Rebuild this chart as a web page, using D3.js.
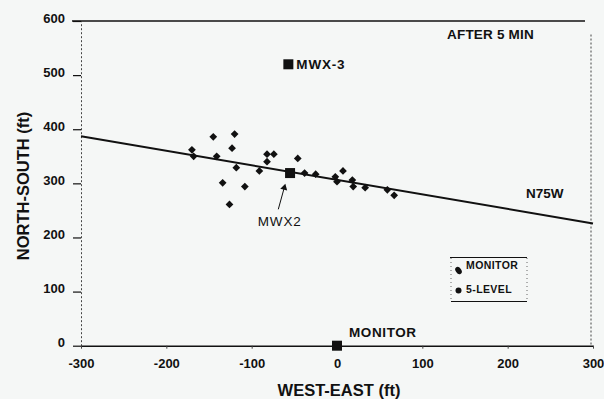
<!DOCTYPE html>
<html>
<head>
<meta charset="utf-8">
<script src="https://cdn.jsdelivr.net/npm/d3@7"></script>
<style>
  body { margin: 0; background: #f5f7f6; }
  svg { display: block; font-family: "Liberation Sans", Arial, sans-serif; }
</style>
</head>
<body>
<svg id="chart" width="604" height="399"></svg>
<script>
// well responses after 5 min (ft)
var pointsX = [-170, -168, -145, -120, -123, -141, -118, -91, -134, -108, -126,
               -82, -74, -82, -46, -38, -25, -2, 0, 7, 18, 19, 33, 59, 67];
var pointsY = [362, 350, 386, 391, 365, 350, 329, 323, 301, 294, 261,
               354, 354, 340, 346, 319, 317, 312, 303, 323, 306, 294, 292, 288, 278];

// wells (squares)
var wellNames = ["MWX-3", "MWX2", "MONITOR"];
var wellX = [-57, -55, 0];
var wellY = [520, 319, 0];

// N75W trend line end points
var trendX = [-300, 300];
var trendY = [387, 226];

var xTicks = [-300, -200, -100, 0, 100, 200, 300];
var yTicks = [0, 100, 200, 300, 400, 500, 600];

var svg = d3.select("#chart");
var x = d3.scaleLinear().domain([-300, 300]).range([81, 593]);
var y = d3.scaleLinear().domain([0, 600]).range([345.7, 21]);
var ink = "#111";
var plain = function(d) { return String(d); };

// y axis (dotted spine)
var yAxis = svg.append("g")
    .attr("transform", "translate(" + x(-300) + ",0)")
    .call(d3.axisLeft(y).tickValues(yTicks).tickFormat(plain)
        .tickSizeInner(8).tickSizeOuter(0).tickPadding(8));
yAxis.select(".domain").attr("stroke", "#444").attr("stroke-dasharray", "2,2").attr("stroke-width", 1);
yAxis.selectAll(".tick line").attr("stroke", ink).attr("stroke-width", 1.2);
yAxis.selectAll(".tick text")
    .attr("y", -3)
    .style("font-size", "13px").style("font-weight", "bold").attr("fill", ink);

// right border dotted
svg.append("line")
    .attr("x1", x(300) - 2).attr("x2", x(300) - 2)
    .attr("y1", y(575)).attr("y2", y(0))
    .attr("stroke", "#444").attr("stroke-dasharray", "2,2");

// top border
svg.append("line")
    .attr("x1", x(-300) - 9).attr("x2", x(300) - 8)
    .attr("y1", y(600)).attr("y2", y(600))
    .attr("stroke", ink).attr("stroke-width", 1.3);

// x axis
var xAxis = svg.append("g")
    .attr("transform", "translate(0," + y(0) + ")")
    .call(d3.axisBottom(x).tickValues(xTicks).tickFormat(plain)
        .tickSizeInner(3).tickSizeOuter(0).tickPadding(10));
xAxis.select(".domain").attr("stroke", ink).attr("stroke-width", 1.6);
xAxis.selectAll(".tick line").attr("stroke", "#444");
xAxis.selectAll(".tick text")
    .style("font-size", "13px").style("font-weight", "bold").attr("fill", ink);

// axis titles
svg.append("text")
    .attr("transform", "translate(23," + 186 + ") rotate(-90)")
    .attr("text-anchor", "middle").attr("dominant-baseline", "central")
    .style("font-size", "16.5px").style("font-weight", "bold").attr("fill", ink)
    .text("NORTH-SOUTH (ft)");
svg.append("text")
    .attr("x", x(0) + 2).attr("y", 396)
    .attr("text-anchor", "middle")
    .style("font-size", "16.5px").style("font-weight", "bold").attr("fill", ink)
    .text("WEST-EAST (ft)");

// trend line
svg.append("line")
    .attr("x1", x(trendX[0])).attr("y1", y(trendY[0]))
    .attr("x2", x(trendX[1])).attr("y2", y(trendY[1]))
    .attr("stroke", ink).attr("stroke-width", 2);

// diamonds
svg.append("g").selectAll("path")
    .data(pointsX)
    .join("path")
    .attr("d", d3.symbol().type(d3.symbolSquare).size(30))
    .attr("transform", function(d, i) {
        return "translate(" + x(d) + "," + y(pointsY[i]) + ") rotate(45)";
    })
    .attr("fill", ink);

// wells
svg.append("g").selectAll("rect")
    .data(wellX)
    .join("rect")
    .attr("x", function(d) { return x(d) - 5; })
    .attr("y", function(d, i) { return y(wellY[i]) - 5; })
    .attr("width", 10).attr("height", 10)
    .attr("fill", ink);

// labels
function label(tx, ty, txt, size, weight, spacing) {
    svg.append("text")
        .attr("x", tx).attr("y", ty)
        .style("font-size", size + "px").style("font-weight", weight)
        .style("letter-spacing", spacing + "px")
        .attr("fill", ink)
        .text(txt);
}
label(x(wellX[0]) + 8, y(wellY[0]) + 5, "MWX-3", 13.5, "bold", 0.8);
label(x(-67) - 22, y(231) + 5, "MWX2", 13.5, "normal", 0.8);
label(x(wellX[2]) + 12, y(0) - 9, "MONITOR", 13.5, "bold", 0.6);
label(447, 39, "AFTER 5 MIN", 13.5, "bold", 0.2);
label(526, 198, "N75W", 13.5, "bold", 0);

// MWX2 arrow
var ax0 = x(-68.8), ay0 = y(252), ax1 = x(-61.8), ay1 = y(292);
svg.append("line")
    .attr("x1", ax0).attr("y1", ay0).attr("x2", ax1).attr("y2", ay1)
    .attr("stroke", ink).attr("stroke-width", 1);
svg.append("path")
    .attr("d", d3.symbol().type(d3.symbolTriangle).size(22))
    .attr("transform", "translate(" + ax1 + "," + ay1 + ") rotate(" +
        (Math.atan2(ax1 - ax0, ay0 - ay1) * 180 / Math.PI) + ")")
    .attr("fill", ink);

// legend
var lg = svg.append("g");
lg.append("line").attr("x1", 450).attr("x2", 527).attr("y1", 257.5).attr("y2", 257.5)
    .attr("stroke", ink).attr("stroke-width", 1.2);
lg.append("line").attr("x1", 451).attr("x2", 527).attr("y1", 301.5).attr("y2", 301.5)
    .attr("stroke", ink).attr("stroke-width", 1.2);
lg.append("line").attr("x1", 451).attr("x2", 451).attr("y1", 258).attr("y2", 301)
    .attr("stroke", "#666").attr("stroke-dasharray", "1,3");
lg.append("line").attr("x1", 527).attr("x2", 527).attr("y1", 258).attr("y2", 301)
    .attr("stroke", "#666").attr("stroke-dasharray", "1,3");
lg.append("ellipse").attr("cx", 458.5).attr("cy", 270.5).attr("rx", 2.8).attr("ry", 4)
    .attr("transform", "rotate(-35,458.5,270.5)").attr("fill", ink);
lg.append("circle").attr("cx", 458.5).attr("cy", 290.5).attr("r", 3).attr("fill", ink);
lg.append("text").attr("x", 466).attr("y", 268.5)
    .style("font-size", "10.5px").style("font-weight", "bold").style("letter-spacing", "0.4px")
    .attr("fill", ink).text("MONITOR");
lg.append("text").attr("x", 466).attr("y", 292.5)
    .style("font-size", "10.5px").style("font-weight", "bold").style("letter-spacing", "0.4px")
    .attr("fill", ink).text("5-LEVEL");
</script>
</body>
</html>
